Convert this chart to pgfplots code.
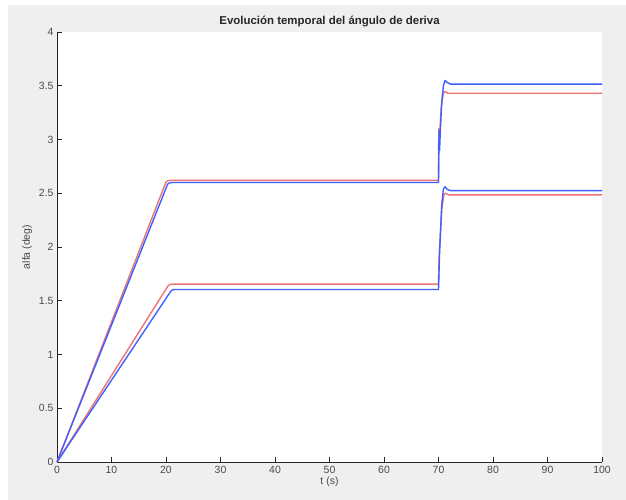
\documentclass[border=0pt]{standalone}
\usepackage{pgfplots}
\pgfplotsset{compat=1.18}
\usepackage{fontspec}
\setmainfont{Liberation Sans}
\definecolor{figbg}{HTML}{EFEFEF}
\definecolor{axcol}{HTML}{262626}
\definecolor{tickcol}{HTML}{4A4A4A}
\definecolor{lred}{HTML}{EE7474}
\definecolor{lblue}{HTML}{3F60FF}
\begin{document}
\begin{tikzpicture}
% figure background
\fill[white] (0,0) rectangle (626bp,500bp);
\fill[figbg] (8bp,0) rectangle (626bp,495bp);
\begin{axis}[
  at={(57bp,38bp)}, anchor=south west,
  scale only axis, width=545bp, height=430bp,
  xmin=0, xmax=100, ymin=0, ymax=4,
  xtick={0,10,...,100}, ytick={0,0.5,...,4},
  axis x line*=bottom, axis y line*=left,
  axis line style={-, axcol, line width=0.6pt},
  tick style={axcol, line width=0.6pt},
  major tick length=5bp, tick align=inside,
  axis background/.style={fill=white},
  /pgf/number format/assume math mode=true,
  ticklabel style={font=\fontsize{10.5}{12}\selectfont, text=tickcol},
  yticklabel style={/pgf/number format/fixed},
  xticklabel style={yshift=-1bp},
  title={\bfseries Evolución temporal del ángulo de deriva},
  title style={font=\fontsize{11.5}{13}\selectfont, yshift=-4bp, text=black!85},
  xlabel={t (s)}, ylabel={alfa (deg)},
  label style={font=\fontsize{10.5}{12}\selectfont, text=tickcol},
  xlabel style={yshift=4bp},
  ylabel style={yshift=0bp},
  clip=false,
  every axis plot/.append style={line width=1.4pt, line join=round},
]
% upper pair
\addplot[lred] coordinates {
(0,0) (20.0,2.605) (20.4,2.618) (21,2.62) (70,2.62) (70.05,3.1) (70.15,3.0)
(70.5,3.3) (70.9,3.43) (71.2,3.445) (71.8,3.43) (100,3.43)};
\addplot[lblue] coordinates {
(0,0) (20.3,2.585) (20.7,2.598) (21.3,2.6) (70,2.6) (70.1,3.08) (70.2,2.9)
(70.35,3.1) (70.6,3.35) (70.9,3.5) (71.2,3.55) (71.6,3.53) (72.2,3.515) (100,3.515)};
% lower pair
\addplot[lred] coordinates {
(0,0) (20.4,1.64) (20.8,1.653) (21.4,1.655) (70,1.655) (70.1,1.9) (70.6,2.35)
(71,2.49) (71.3,2.5) (71.8,2.485) (100,2.485)};
\addplot[lblue] coordinates {
(0,0) (20.9,1.59) (21.3,1.603) (21.9,1.605) (70,1.605) (70.2,1.95) (70.6,2.4)
(70.9,2.54) (71.2,2.56) (71.6,2.535) (72.2,2.525) (100,2.525)};
\end{axis}
\pgfresetboundingbox
\useasboundingbox (0,0) rectangle (626bp,500bp);
\end{tikzpicture}
\end{document}
